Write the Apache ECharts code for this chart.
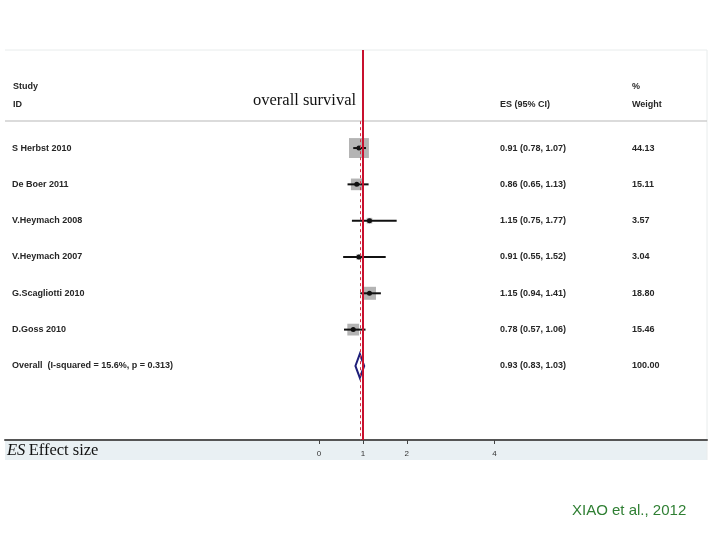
<!DOCTYPE html>
<html>
<head>
<meta charset="utf-8">
<script src="https://cdn.jsdelivr.net/npm/echarts@6/dist/echarts.min.js"></script>
<style>html,body{margin:0;padding:0;background:#fff}#c{width:720px;height:540px}</style>
</head>
<body>
<div id="c"></div>
<script>
// ---- data ----
var studies = ['S Herbst 2010', 'De Boer 2011', 'V.Heymach 2008', 'V.Heymach 2007', 'G.Scagliotti 2010', 'D.Goss 2010'];
var es = [0.91, 0.86, 1.15, 0.91, 1.15, 0.78];
var ciLow = [0.78, 0.65, 0.75, 0.55, 0.94, 0.57];
var ciHigh = [1.07, 1.13, 1.77, 1.52, 1.41, 1.06];
var weights = ['44.13', '15.11', '3.57', '3.04', '18.80', '15.46'];
var overallLabel = 'Overall  (I-squared = 15.6%, p = 0.313)';
var overallES = 0.93, overallLow = 0.83, overallHigh = 1.03, overallWeight = '100.00';
var xTicks = [0, 1, 2, 4];
var nullValue = 1;

var chart = echarts.init(document.getElementById('c'), null, {renderer: 'canvas'});
var txtFont = {fontFamily: 'Liberation Sans, Arial, sans-serif', fontSize: 9, fontWeight: 'bold', fill: '#262626'};
function t(x, y, s, extra) {
  return {type: 'text', x: x, y: y, style: Object.assign({text: s, textVerticalAlign: 'middle'}, txtFont, extra || {})};
}
function esText(e, l, h) { return e.toFixed(2) + ' (' + l.toFixed(2) + ', ' + h.toFixed(2) + ')'; }

var rows = studies.map(function (s, i) { return [i, es[i], ciLow[i], ciHigh[i], parseFloat(weights[i])]; });
var overallRow = studies.length;

chart.setOption({
  animation: false,
  grid: {left: 5, right: 13, top: 50, bottom: 100},
  xAxis: {
    type: 'value', min: -7.157, max: 8.843,
    axisLine: {show: true, onZero: false, lineStyle: {color: '#555', width: 2}},
    axisTick: {show: true, customValues: xTicks, length: 4, lineStyle: {color: '#444', width: 1}},
    axisLabel: {show: true, customValues: xTicks, fontSize: 8, color: '#333', margin: 10, fontFamily: 'Liberation Sans, Arial'},
    splitLine: {show: false}
  },
  yAxis: {type: 'value', inverse: true, min: -2.7, max: 8.04, show: false},
  graphic: [
    {type: 'rect', z: -10, shape: {x: 5, y: 440, width: 702, height: 20}, style: {fill: '#e9f0f3'}},
    {type: 'line', shape: {x1: 5, y1: 50, x2: 707, y2: 50}, style: {stroke: '#e8ecec', lineWidth: 1}},
    {type: 'line', shape: {x1: 707, y1: 50, x2: 707, y2: 460}, style: {stroke: '#e8ecec', lineWidth: 1}},
    {type: 'line', shape: {x1: 5, y1: 121, x2: 707, y2: 121}, style: {stroke: '#cfcfcf', lineWidth: 1.5}},
    t(13, 87, 'Study'), t(13, 105, 'ID'),
    t(500, 105, 'ES (95% CI)'), t(632, 87, '%'), t(632, 105, 'Weight'),
    {type: 'text', x: 253, y: 101, style: {text: 'overall survival', fontFamily: 'Liberation Serif, Times New Roman, serif', fontSize: 16.5, fill: '#111', textVerticalAlign: 'middle'}},
    {type: 'text', x: 7, y: 451, z: 10, style: {
      text: '{i|ES} {n|Effect size}', textVerticalAlign: 'middle',
      rich: {i: {fontFamily: 'Liberation Serif, serif', fontStyle: 'italic', fontSize: 16.5, fill: '#111'},
             n: {fontFamily: 'Liberation Serif, serif', fontSize: 16.5, fill: '#111'}}}},
    {type: 'text', x: 572, y: 511, style: {text: 'XIAO et al., 2012', fontFamily: 'Liberation Sans, Arial, sans-serif', fontSize: 15, fill: '#2f7f33', textVerticalAlign: 'middle'}}
  ],
  series: [
    { // weight squares
      type: 'custom', z: 1, data: rows,
      renderItem: function (params, api) {
        var c = api.coord([api.value(1), api.value(0)]);
        var side = 3.0 * Math.sqrt(api.value(4));
        return {type: 'rect', shape: {x: c[0] - side / 2, y: c[1] - side / 2, width: side, height: side}, style: {fill: '#b4b4b4'}};
      }
    },
    { // reference lines
      type: 'line', z: 2, data: [], symbol: 'none',
      markLine: {
        silent: true, symbol: ['none', 'none'], label: {show: false},
        data: [
          [{coord: [nullValue, -2.7], lineStyle: {color: '#c8102e', width: 2, type: 'solid'}}, {coord: [nullValue, 8.04]}],
          [{coord: [overallES, -0.74], lineStyle: {color: '#d2334a', width: 1, type: [3, 3]}}, {coord: [overallES, 8.04]}]
        ]
      }
    },
    { // CI lines, points, text columns
      type: 'custom', z: 3, data: rows,
      renderItem: function (params, api) {
        var i = api.value(0);
        var p = api.coord([api.value(1), i]);
        var l = api.coord([api.value(2), i]);
        var h = api.coord([api.value(3), i]);
        return {type: 'group', children: [
          {type: 'line', shape: {x1: l[0], y1: l[1], x2: h[0], y2: h[1]}, style: {stroke: '#111', lineWidth: 2}},
          {type: 'circle', shape: {cx: p[0], cy: p[1], r: 2.5}, style: {fill: '#111'}},
          t(12, p[1], studies[i]),
          t(500, p[1], esText(es[i], ciLow[i], ciHigh[i])),
          t(632, p[1], weights[i])
        ]};
      }
    },
    { // overall diamond
      type: 'custom', z: 3, data: [[overallRow, overallES, overallLow, overallHigh]],
      renderItem: function (params, api) {
        var y = api.value(0);
        var top = api.coord([api.value(1), y - 0.33]);
        var bot = api.coord([api.value(1), y + 0.33]);
        var l = api.coord([api.value(2), y]);
        var h = api.coord([api.value(3), y]);
        return {type: 'group', children: [
          {type: 'polygon', shape: {points: [top, h, bot, l]}, style: {fill: 'none', stroke: '#1f1f7a', lineWidth: 2}},
          t(12, l[1], overallLabel),
          t(500, l[1], esText(overallES, overallLow, overallHigh)),
          t(632, l[1], overallWeight)
        ]};
      }
    }
  ]
});
</script>
</body>
</html>
